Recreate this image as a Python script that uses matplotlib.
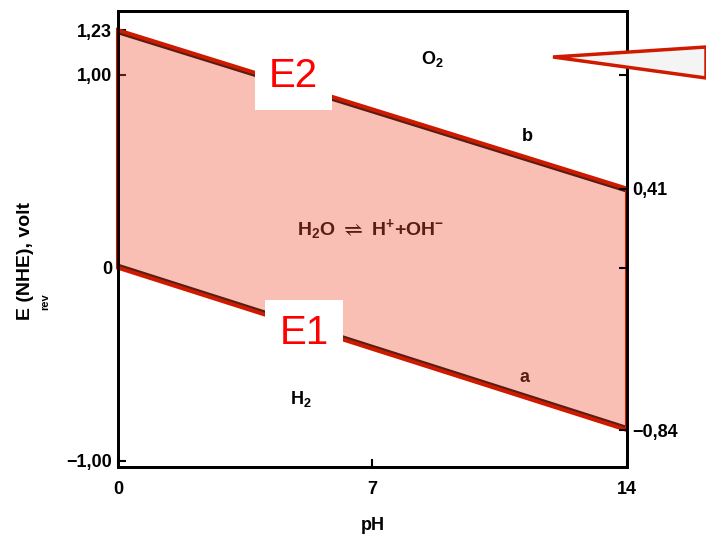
import matplotlib
matplotlib.use("Agg")
import matplotlib.pyplot as plt
import matplotlib.transforms as mtransforms
from matplotlib.patches import Polygon

plt.rcParams['font.family'] = ['Liberation Sans', 'DejaVu Sans']
plt.rcParams['font.weight'] = 'bold'
plt.rcParams['axes.labelweight'] = 'bold'
plt.rcParams['mathtext.fontset'] = 'custom'
plt.rcParams['mathtext.rm'] = 'Liberation Sans:bold'
plt.rcParams['mathtext.it'] = 'Liberation Sans:bold:italic'
plt.rcParams['mathtext.bf'] = 'Liberation Sans:bold'
plt.rcParams['mathtext.fallback'] = 'stixsans'

# data: water stability window vs pH
ph = [0, 14]
e_o2 = [1.23, 0.41]     # line b, O2/H2O
e_h2 = [0.0, -0.84]     # line a, H+/H2

left_ticks = [1.23, 1.00, 0, -1.00]
left_labels = ['1,23', '1,00', '0', '\u22121,00']
right_ticks = [1.00, 0.41, 0, -0.84]
right_labels = ['', '0,41', '', '\u22120,84']
x_ticks = [0, 7, 14]

fig = plt.figure(figsize=(7.06, 5.39), dpi=100)
ax = fig.add_axes([0.167, 0.134, 0.721, 0.846])
ax.set_xlim(0, 14)
ax.set_ylim(-1.03, 1.33)

# black lines a and b, slightly inside the red outline like the scan
down = mtransforms.ScaledTranslation(0, -2 / 72, fig.dpi_scale_trans)
up = mtransforms.ScaledTranslation(0, 2 / 72, fig.dpi_scale_trans)
ax.plot(ph, e_o2, color='black', lw=2, transform=ax.transData + down, zorder=2)
ax.plot(ph, e_h2, color='black', lw=2, transform=ax.transData + up, zorder=2)

# labels of the diagram
ax.text(8.65, 1.08, r'O$_2$', fontsize=13, ha='center', va='center')
ax.text(11.27, 0.68, 'b', fontsize=13, ha='center', va='center')
ax.text(6.95, 0.20, r'H$_2$O $\rightleftharpoons$ H$^{+}$+OH$^{-}$', fontsize=14,
        ha='center', va='center')
ax.text(5.04, -0.68, r'H$_2$', fontsize=13, ha='center', va='center')
ax.text(11.19, -0.57, 'a', fontsize=13, ha='center', va='center')

# shaded window
verts = [(ph[0], e_h2[0]), (ph[0], e_o2[0]), (ph[1], e_o2[1]), (ph[1], e_h2[1])]
ax.add_patch(Polygon(verts, closed=True, facecolor=(241/255, 79/255, 52/255),
                     alpha=0.37, edgecolor='none', zorder=3))
ax.add_patch(Polygon(verts, closed=True, facecolor='none',
                     edgecolor='#d01a00', lw=2.8, zorder=4, clip_on=False))

# E2 / E1 tags
box = dict(boxstyle='square,pad=0.35', facecolor='white', edgecolor='none')
ax.text(4.83, 0.99, 'E2', fontsize=29, fontweight='normal', color='red',
        ha='center', va='center', bbox=box, zorder=6)
ax.text(5.12, -0.34, 'E1', fontsize=29, fontweight='normal', color='red',
        ha='center', va='center', bbox=box, zorder=6)

ax.set_xticks(x_ticks)
ax.set_xticklabels([str(t) for t in x_ticks])
ax.set_yticks(left_ticks)
ax.set_yticklabels(left_labels)
ax.tick_params(axis='both', direction='in', length=6, width=1.5, labelsize=13)
ax.tick_params(axis='x', pad=10)
ax.tick_params(axis='y', pad=4)

ax2 = ax.twinx()
ax2.set_ylim(ax.get_ylim())
ax2.set_yticks(right_ticks)
ax2.set_yticklabels(right_labels)
ax2.tick_params(axis='y', direction='in', length=6, width=1.5, labelsize=13, pad=4)

for a in (ax, ax2):
    for s in a.spines.values():
        s.set_linewidth(2)

ax.set_xlabel('pH', fontsize=13, labelpad=14)
ax.set_ylabel('E (NHE), volt', fontsize=14)
ax.yaxis.set_label_coords(-0.165, 0.452)
fig.text(0.064, 0.44, 'rev', fontsize=8, rotation=90, ha='center', va='center')

# callout pointer at top right
fig.patches.append(Polygon([(553/706, 1 - 57/539), (1.0, 1 - 47/539), (1.0, 1 - 78/539)],
                           closed=True, transform=fig.transFigure, facecolor='#f4f4f4',
                           edgecolor='#d01a00', lw=2.5, zorder=10))

fig.savefig('out.png', dpi=100)
